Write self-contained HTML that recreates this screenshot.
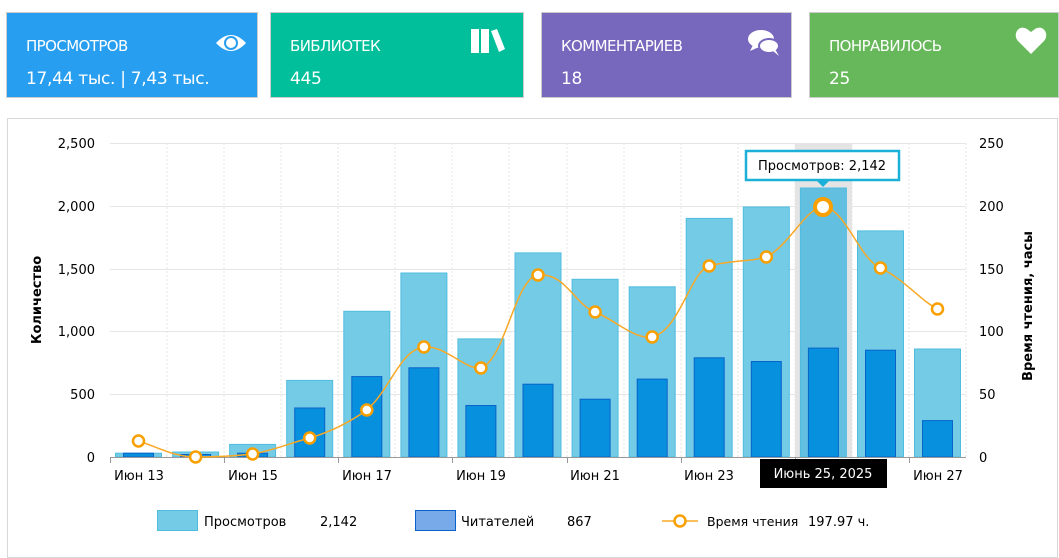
<!DOCTYPE html>
<html><head><meta charset="utf-8"><style>
body{margin:0;width:1059px;height:554px;background:#fff;font-family:"DejaVu Sans","Liberation Sans",sans-serif;overflow:hidden;position:relative}
.card{position:absolute;top:12px;height:86px;color:#fff;box-sizing:border-box;border:1px solid #ccc}
.card .t{position:absolute;left:19px;top:24px;font-size:15px;letter-spacing:-0.6px}
.card .v{position:absolute;left:19px;top:56px;font-size:17px;letter-spacing:-0.3px}
.panel{position:absolute;left:7px;top:118px;width:1051px;height:440px;border:1px solid #d8d8d8;box-sizing:border-box}
</style></head><body>
<div class="card" style="left:6px;width:252px;background:#279ef0"><div class="t">ПРОСМОТРОВ</div><div class="v">17,44 тыс. | 7,43 тыс.</div>
<svg style="position:absolute;left:208px;top:18px" width="32" height="24" viewBox="0 0 32 24"><path d="M1 12 Q16 -4 31 12 Q16 28 1 12Z" fill="#fff"/><circle cx="16" cy="12" r="7" fill="#279ef0"/><circle cx="16" cy="12" r="5" fill="#fff"/></svg></div>
<div class="card" style="left:270px;width:254px;background:#00bf9a"><div class="t">БИБЛИОТЕК</div><div class="v">445</div>
<svg style="position:absolute;left:199px;top:16px" width="36" height="26"><rect x="1" y="0" width="8" height="24" fill="#fff"/><rect x="11" y="0" width="8" height="24" fill="#fff"/><path d="M21 2 L27 0 L35 20 L29 23Z" fill="#fff"/></svg></div>
<div class="card" style="left:541px;width:251px;background:#7767bd"><div class="t">КОММЕНТАРИЕВ</div><div class="v">18</div>
<svg style="position:absolute;left:205px;top:16px" width="34" height="28"><ellipse cx="14" cy="10" rx="13" ry="9" fill="#fff"/><path d="M6 16 L3 22 L12 18Z" fill="#fff"/><ellipse cx="22" cy="17" rx="10" ry="7" fill="#fff" stroke="#7767bd" stroke-width="2"/><path d="M26 22 L32 27 L28 20Z" fill="#fff"/></svg></div>
<div class="card" style="left:809px;width:250px;background:#66b85a"><div class="t">ПОНРАВИЛОСЬ</div><div class="v">25</div>
<svg style="position:absolute;left:205px;top:14px" width="32" height="28" viewBox="0 0 32 28"><path d="M16 27 L3 14 C-3 7 4 -3 12 2 L16 5 L20 2 C28 -3 35 7 29 14Z" fill="#fff"/></svg></div>
<div class="panel"></div>
<svg style="position:absolute;left:0;top:0" width="1059" height="554" font-family="DejaVu Sans, Liberation Sans, sans-serif" font-size="13">
<rect x="795" y="143" width="57" height="314" fill="#e4e4e4"/>
<g stroke="#e6e6e6" stroke-width="1">
<line x1="110" y1="143.5" x2="966" y2="143.5"/><line x1="110" y1="206.5" x2="966" y2="206.5"/><line x1="110" y1="269.5" x2="966" y2="269.5"/><line x1="110" y1="331.5" x2="966" y2="331.5"/><line x1="110" y1="394.5" x2="966" y2="394.5"/>
</g>
<g stroke="#e6e6e6" stroke-dasharray="2,2">
<line x1="167" y1="143" x2="167" y2="457"/><line x1="224" y1="143" x2="224" y2="457"/><line x1="281" y1="143" x2="281" y2="457"/><line x1="338" y1="143" x2="338" y2="457"/><line x1="395" y1="143" x2="395" y2="457"/><line x1="452" y1="143" x2="452" y2="457"/><line x1="509" y1="143" x2="509" y2="457"/><line x1="567" y1="143" x2="567" y2="457"/><line x1="624" y1="143" x2="624" y2="457"/><line x1="681" y1="143" x2="681" y2="457"/><line x1="738" y1="143" x2="738" y2="457"/><line x1="795" y1="143" x2="795" y2="457"/><line x1="852" y1="143" x2="852" y2="457"/><line x1="909" y1="143" x2="909" y2="457"/><line x1="966" y1="143" x2="966" y2="457"/>
</g>
<g fill="#74cbe6" stroke="#4fbde0" stroke-width="1">
<rect x="115.5" y="453.2" width="46" height="3.8"/><rect x="172.6" y="452" width="46" height="5"/><rect x="229.6" y="444.4" width="46" height="12.6"/><rect x="286.7" y="380.4" width="46" height="76.6"/><rect x="343.8" y="311.3" width="46" height="145.7"/><rect x="400.9" y="273" width="46" height="184"/><rect x="457.9" y="338.9" width="46" height="118.1"/><rect x="515" y="252.9" width="46" height="204.1"/><rect x="572.1" y="279.3" width="46" height="177.7"/><rect x="629.2" y="286.8" width="46" height="170.2"/><rect x="686.2" y="218.4" width="46" height="238.6"/><rect x="743.3" y="207" width="46" height="250"/><rect x="800.4" y="188" width="46" height="269" fill="#62bfe0"/><rect x="857.5" y="230.9" width="46" height="226.1"/><rect x="914.5" y="349" width="46" height="108"/>
</g>
<g fill="#0690de" stroke="#0a63c8" stroke-width="1">
<rect x="123.5" y="453.2" width="30" height="3.8"/><rect x="180.6" y="454.5" width="30" height="2.5"/><rect x="237.6" y="453.2" width="30" height="3.8"/><rect x="294.7" y="408" width="30" height="49"/><rect x="351.8" y="376.6" width="30" height="80.4"/><rect x="408.9" y="367.8" width="30" height="89.2"/><rect x="465.9" y="405.5" width="30" height="51.5"/><rect x="523" y="384.2" width="30" height="72.8"/><rect x="580.1" y="399.2" width="30" height="57.8"/><rect x="637.2" y="379.1" width="30" height="77.9"/><rect x="694.2" y="357.8" width="30" height="99.2"/><rect x="751.3" y="361.5" width="30" height="95.5"/><rect x="808.4" y="348.1" width="30" height="108.9"/><rect x="865.5" y="350.2" width="30" height="106.8"/><rect x="922.5" y="420.6" width="30" height="36.4"/>
</g>
<line x1="110" y1="457.5" x2="966" y2="457.5" stroke="#999"/>
<g stroke="#999"><line x1="110.5" y1="457" x2="110.5" y2="463"/><line x1="224.5" y1="457" x2="224.5" y2="463"/><line x1="338.5" y1="457" x2="338.5" y2="463"/><line x1="452.5" y1="457" x2="452.5" y2="463"/><line x1="567.5" y1="457" x2="567.5" y2="463"/><line x1="681.5" y1="457" x2="681.5" y2="463"/><line x1="795.5" y1="457" x2="795.5" y2="463"/><line x1="909.5" y1="457" x2="909.5" y2="463"/></g>
<path d="M138.5 441 C160 448,175 457,195.6 457 C215 457,235 456,252.6 454 C275 450,290 443,309.7 438 C330 432,350 422,366.8 410 C390 390,400 350,423.9 347 C445 345,465 370,480.9 368 C505 360,515 278,538 275 C565 272,575 305,595.1 312 C615 320,635 340,652.2 337 C680 330,690 272,709.2 266 C730 260,750 262,766.3 257 C790 245,805 208,823.4 207 C845 208,860 260,880.5 268 C905 280,920 300,937.5 309" fill="none" stroke="#f9a825" stroke-width="1.5"/>
<g fill="#fff" stroke="#f9a000" stroke-width="2.5">
<circle cx="138.5" cy="441" r="5.5"/><circle cx="195.6" cy="457" r="5.5"/><circle cx="252.6" cy="454" r="5.5"/><circle cx="309.7" cy="438" r="5.5"/><circle cx="366.8" cy="410" r="5.5"/><circle cx="423.9" cy="347" r="5.5"/><circle cx="480.9" cy="368" r="5.5"/><circle cx="538" cy="275" r="5.5"/><circle cx="595.1" cy="312" r="5.5"/><circle cx="652.2" cy="337" r="5.5"/><circle cx="709.2" cy="266" r="5.5"/><circle cx="766.3" cy="257" r="5.5"/><circle cx="880.5" cy="268" r="5.5"/><circle cx="937.5" cy="309" r="5.5"/>
<circle cx="823" cy="207" r="8" stroke-width="4"/>
</g>
<g text-anchor="end" fill="#000"><text x="95" y="148">2,500</text><text x="95" y="211">2,000</text><text x="95" y="274">1,500</text><text x="95" y="336">1,000</text><text x="95" y="399">500</text><text x="95" y="462">0</text></g>
<g fill="#000"><text x="979" y="148">250</text><text x="979" y="211">200</text><text x="979" y="274">150</text><text x="979" y="336">100</text><text x="979" y="399">50</text><text x="979" y="462">0</text></g>
<g text-anchor="middle" fill="#000"><text x="139" y="480">Июн 13</text><text x="253" y="480">Июн 15</text><text x="367" y="480">Июн 17</text><text x="481" y="480">Июн 19</text><text x="595" y="480">Июн 21</text><text x="709" y="480">Июн 23</text><text x="938" y="480">Июн 27</text></g>
<rect x="760" y="459" width="127" height="29" fill="#000"/><text x="823" y="478" text-anchor="middle" fill="#fff">Июнь 25, 2025</text>
<text transform="translate(41,300) rotate(-90)" text-anchor="middle" font-weight="bold" font-size="13">Количество</text>
<text transform="translate(1032,306) rotate(-90)" text-anchor="middle" font-weight="bold" font-size="13">Время чтения, часы</text>
<rect x="746" y="151" width="153" height="29" fill="#fff" stroke="#1ab0d8" stroke-width="2.5"/>
<path d="M816 180 L823 187 L830 180Z" fill="#1ab0d8"/>
<text x="822" y="170" text-anchor="middle" fill="#000">Просмотров: 2,142</text>
<rect x="157.5" y="510.5" width="40" height="20" fill="#74cbe6" stroke="#4fbde0"/><text x="204" y="526">Просмотров</text><text x="320" y="526">2,142</text>
<rect x="415.5" y="510.5" width="40" height="20" fill="#78aaea" stroke="#0a63c8"/><text x="461" y="526">Читателей</text><text x="567" y="526">867</text>
<line x1="662" y1="521" x2="698" y2="521" stroke="#f9a825" stroke-width="1.5"/><circle cx="680" cy="521" r="5.5" fill="#fff" stroke="#f9a000" stroke-width="2.5"/>
<text x="707" y="526" font-size="12.5">Время чтения</text><text x="808" y="526">197.97 ч.</text>
</svg>
</body></html>
